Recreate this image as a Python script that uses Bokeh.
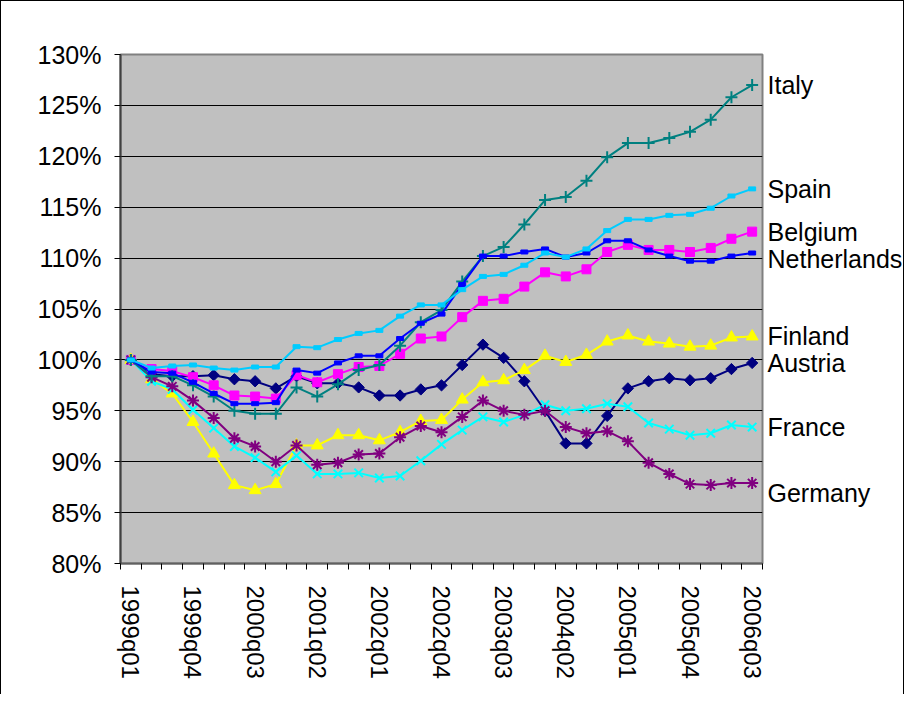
import math
from bokeh.plotting import figure
from bokeh.models import Range1d, FixedTicker, PrintfTickFormatter, LinearAxis
from bokeh.embed import file_html
from bokeh.resources import INLINE

# ---------------- data ----------------
quarters = ["1999q01", "1999q02", "1999q03", "1999q04",
            "2000q01", "2000q02", "2000q03", "2000q04",
            "2001q01", "2001q02", "2001q03", "2001q04",
            "2002q01", "2002q02", "2002q03", "2002q04",
            "2003q01", "2003q02", "2003q03", "2003q04",
            "2004q01", "2004q02", "2004q03", "2004q04",
            "2005q01", "2005q02", "2005q03", "2005q04",
            "2006q01", "2006q02", "2006q03"]

austria = [100.0, 98.6, 98.4, 98.4, 98.5, 98.1, 97.9, 97.2, 98.4, 97.7, 97.7, 97.3, 96.5, 96.5, 97.1, 97.5,
           99.5, 101.5, 100.2, 97.9, 95.0, 91.8, 91.8, 94.5, 97.2, 97.9, 98.2, 98.0, 98.2, 99.1, 99.7]
belgium = [100.0, 99.1, 98.9, 98.3, 97.5, 96.5, 96.4, 96.2, 98.5, 97.8, 98.6, 99.3, 99.4, 100.6, 102.1, 102.3,
           104.2, 105.8, 106.0, 107.2, 108.6, 108.2, 108.9, 110.6, 111.3, 110.8, 110.8, 110.6, 111.0, 111.9, 112.6]
finland = [100.0, 98.1, 96.7, 93.9, 90.8, 87.7, 87.2, 87.8, 91.6, 91.6, 92.6, 92.6, 92.1, 92.9, 94.0, 94.1,
           96.1, 97.8, 98.0, 99.0, 100.4, 99.8, 100.5, 101.8, 102.4, 101.8, 101.6, 101.3, 101.4, 102.2, 102.3]
france = [100.0, 97.9, 97.1, 95.1, 93.3, 91.5, 90.4, 89.0, 90.6, 88.8, 88.8, 88.9, 88.4, 88.6, 90.1, 91.7,
          93.1, 94.4, 93.9, 94.6, 95.6, 95.0, 95.2, 95.7, 95.4, 93.8, 93.2, 92.6, 92.8, 93.6, 93.4]
germany = [100.0, 98.3, 97.4, 96.0, 94.3, 92.3, 91.5, 90.0, 91.6, 89.7, 89.9, 90.7, 90.8, 92.4, 93.5, 92.9,
           94.4, 96.0, 95.0, 94.6, 95.0, 93.4, 92.8, 93.0, 92.0, 89.9, 88.8, 87.8, 87.7, 87.9, 87.9]
italy = [100.0, 98.4, 98.4, 97.5, 96.4, 95.0, 94.7, 94.7, 97.3, 96.4, 97.6, 99.0, 99.5, 101.4, 103.7, 104.9,
         107.7, 110.2, 111.1, 113.3, 115.7, 116.0, 117.6, 119.9, 121.3, 121.3, 121.8, 122.4, 123.6, 125.8, 127.0]
netherlands = [100.0, 98.8, 98.7, 97.8, 96.7, 95.7, 95.7, 95.8, 99.0, 98.7, 99.7, 100.4, 100.4, 102.1, 103.6, 104.5,
               107.4, 110.2, 110.2, 110.6, 110.9, 110.1, 110.5, 111.7, 111.7, 110.8, 110.2, 109.7, 109.7, 110.2, 110.5]
spain = [100.0, 99.2, 99.4, 99.5, 99.2, 99.0, 99.3, 99.3, 101.3, 101.2, 102.0, 102.6, 102.9, 104.3, 105.4, 105.4,
         106.9, 108.2, 108.4, 109.3, 110.5, 110.1, 110.9, 112.7, 113.8, 113.8, 114.2, 114.3, 114.9, 116.1, 116.8]

y_ticks = [80, 85, 90, 95, 100, 105, 110, 115, 120, 125, 130]
label_every = 3

# ---------------- styling ----------------
FONT = "Liberation Sans"
series = [
    ("Austria", austria, "#000080", "diamond"),
    ("Belgium", belgium, "#FF00FF", "square"),
    ("Finland", finland, "#FFFF00", "triangle"),
    ("France", france, "#00FFFF", "x"),
    ("Germany", germany, "#800080", "asterisk"),
    ("Italy", italy, "#008080", "cross"),
    ("Netherlands", netherlands, "#0000FF", "dash"),
    ("Spain", spain, "#00CCFF", "dash"),
]
label_shift = {"Netherlands": -0.6, "Germany": -1.0}

n = len(quarters)
x = list(range(n))

p = figure(width=904, height=694, output_backend="svg", toolbar_location=None,
           x_range=Range1d(-0.5, n - 0.5), y_range=Range1d(y_ticks[0], y_ticks[-1]),
           min_border_left=119, min_border_right=140, min_border_top=53, min_border_bottom=132)
p.styles = {"border-left": "1px solid black", "border-top": "1px solid black",
            "border-right": "1px solid black"}
p.background_fill_color = "#C0C0C0"
p.border_fill_color = "white"
p.outline_line_color = "#808080"
p.outline_line_width = 2

# y axis
p.yaxis.ticker = FixedTicker(ticks=y_ticks, minor_ticks=[])
p.yaxis.formatter = PrintfTickFormatter(format="%d%%")
p.yaxis.major_label_text_font = FONT
p.yaxis.major_label_text_font_size = "25px"
p.yaxis.major_label_text_color = "black"
p.yaxis.major_tick_out = 6
p.yaxis.major_tick_in = 0
p.yaxis.major_tick_line_color = "black"
p.yaxis.major_label_standoff = 13
p.yaxis.axis_line_color = "#404040"
p.yaxis.axis_line_width = 2

# x axis
label_idx = list(range(0, n, label_every))
p.xaxis.ticker = FixedTicker(ticks=label_idx, minor_ticks=[i - 0.5 for i in range(n + 1)])
p.xaxis.major_label_overrides = {i: quarters[i] for i in label_idx}
p.xaxis.major_label_orientation = "vertical"
p.xaxis.major_label_text_font = FONT
p.xaxis.major_label_text_font_size = "24px"
p.xaxis.major_label_text_color = "black"
p.xaxis.major_tick_out = 0
p.xaxis.major_tick_in = 0
p.xaxis.minor_tick_out = 6
p.xaxis.minor_tick_in = 0
p.xaxis.minor_tick_line_color = "black"
p.xaxis.major_label_standoff = 16
p.xaxis.axis_line_color = "#606060"
p.xaxis.axis_line_width = 2

p.xgrid.visible = False
p.ygrid.grid_line_color = "black"
p.ygrid.grid_line_width = 1

for name, vals, col, mk in series:
    p.line(x, vals, line_color=col, line_width=2)
    if mk == "diamond":
        p.scatter(x, vals, marker="square", angle=math.pi / 4, size=8, fill_color=col, line_color=col)
    elif mk == "square":
        p.scatter(x, vals, marker="square", size=9, fill_color=col, line_color=col)
    elif mk == "triangle":
        p.scatter(x, vals, marker="triangle", size=12, fill_color=col, line_color=col)
    elif mk == "dash":
        p.rect(x, vals, width=7, height=4, width_units="screen", height_units="screen",
               fill_color=col, line_color=col)
    else:
        p.scatter(x, vals, marker=mk, size=12, line_color=col, line_width=2)

# series names at the right end, placed through a right-hand axis on the same y scale
label_pos = [round(vals[-1] + label_shift.get(name, 0.0), 2) for name, vals, col, mk in series]
right = LinearAxis(ticker=FixedTicker(ticks=label_pos, minor_ticks=[]),
                   major_label_overrides={pos: s[0] for pos, s in zip(label_pos, series)})
right.axis_line_color = None
right.major_tick_line_color = None
right.major_tick_out = 0
right.major_tick_in = 0
right.major_label_standoff = 5
right.major_label_text_font = FONT
right.major_label_text_font_size = "25px"
right.major_label_text_color = "black"
p.add_layout(right, "right")

open("out.html", "w").write(file_html(p, INLINE))
